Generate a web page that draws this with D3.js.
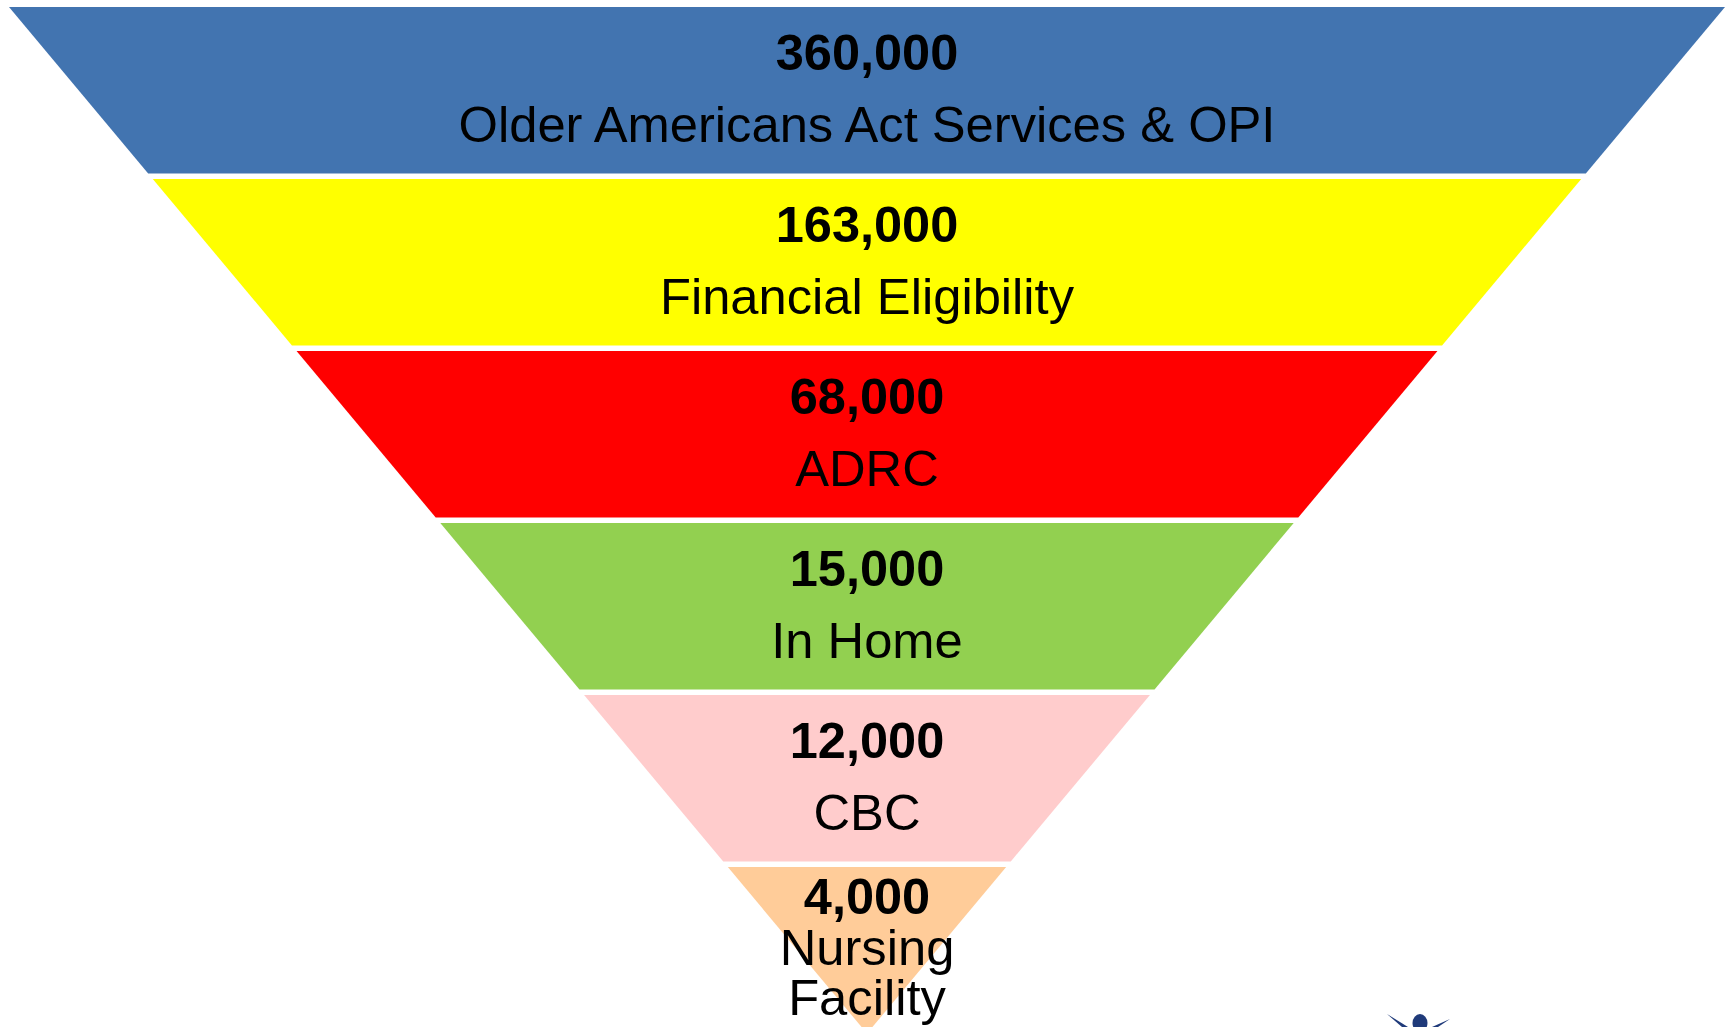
<!DOCTYPE html>
<html>
<head>
<meta charset="utf-8">
<script src="https://cdn.jsdelivr.net/npm/d3@7"></script>
<style>
  html, body { margin: 0; padding: 0; background: #fff; overflow: hidden; }
</style>
</head>
<body>
<div id="canvas"></div>
<script>
// funnel stages, top to bottom
const stages = ["Older Americans Act Services & OPI", "Financial Eligibility", "ADRC", "In Home", "CBC", "Nursing Facility"]
const values = [360000, 163000, 68000, 15000, 12000, 4000]
const labelLines = [["Older Americans Act Services & OPI"], ["Financial Eligibility"], ["ADRC"], ["In Home"], ["CBC"], ["Nursing", "Facility"]]
const colors = ["#4274b0", "#ffff00", "#ff0000", "#92d050", "#ffcccc", "#ffcc99"]

const canvasWidth = 1731
const canvasHeight = 1027
const cx = 867
const funnelTop = 7
const apex = 1033.5

const svg = d3.select("#canvas")
    .append("svg")
    .attr("width", canvasWidth)
    .attr("height", canvasHeight)

// vertical slots for each stage
const y = d3.scaleBand()
    .domain(stages)
    .range([funnelTop, apex])
    .paddingInner(5.5 / 172)
    .paddingOuter(0)

// half width of the funnel at a given y
const half = d3.scaleLinear()
    .domain([funnelTop, apex])
    .range([858, 0])

const fmt = d3.format(",")

const seg = svg.selectAll("g.seg")
    .data(stages)
    .enter()
    .append("g")
    .attr("class", "seg")

seg.append("path")
    .attr("d", d => {
        const y0 = y(d), y1 = y(d) + y.bandwidth()
        return "M" + (cx - half(y0)) + "," + y0 +
            "L" + (cx + half(y0)) + "," + y0 +
            "L" + (cx + half(y1)) + "," + y1 +
            "L" + (cx - half(y1)) + "," + y1 + "Z"
    })
    .attr("fill", (d, i) => colors[i])

seg.append("text")
    .attr("x", cx)
    .attr("y", (d, i) => y(d) + (i === 5 ? 47 : 63))
    .attr("text-anchor", "middle")
    .style("font-family", "'Liberation Sans', Arial, sans-serif")
    .style("font-weight", "bold")
    .style("font-size", "50.5px")
    .attr("fill", "#000")
    .text((d, i) => fmt(values[i]))

seg.each(function(d, i) {
    const g = d3.select(this)
    const lines = labelLines[i]
    const start = i === 5 ? 98 : 135
    lines.forEach((l, j) => {
        g.append("text")
            .attr("x", cx)
            .attr("y", y(d) + start + j * 50)
            .attr("text-anchor", "middle")
            .style("font-family", "'Liberation Sans', Arial, sans-serif")
            .style("font-size", "50.7px")
            .attr("fill", "#000")
            .text(l)
    })
})

// bit of a logo peeking in at the bottom right
const logo = svg.append("g").attr("fill", "#1f3a7a")
logo.append("ellipse").attr("cx", 1420).attr("cy", 1023).attr("rx", 7.5).attr("ry", 9)
logo.append("path").attr("d", "M1387,1014 L1408,1027 L1402,1027 Z")
logo.append("path").attr("d", "M1450,1019 L1432,1027 L1438,1027 Z")
</script>
</body>
</html>
